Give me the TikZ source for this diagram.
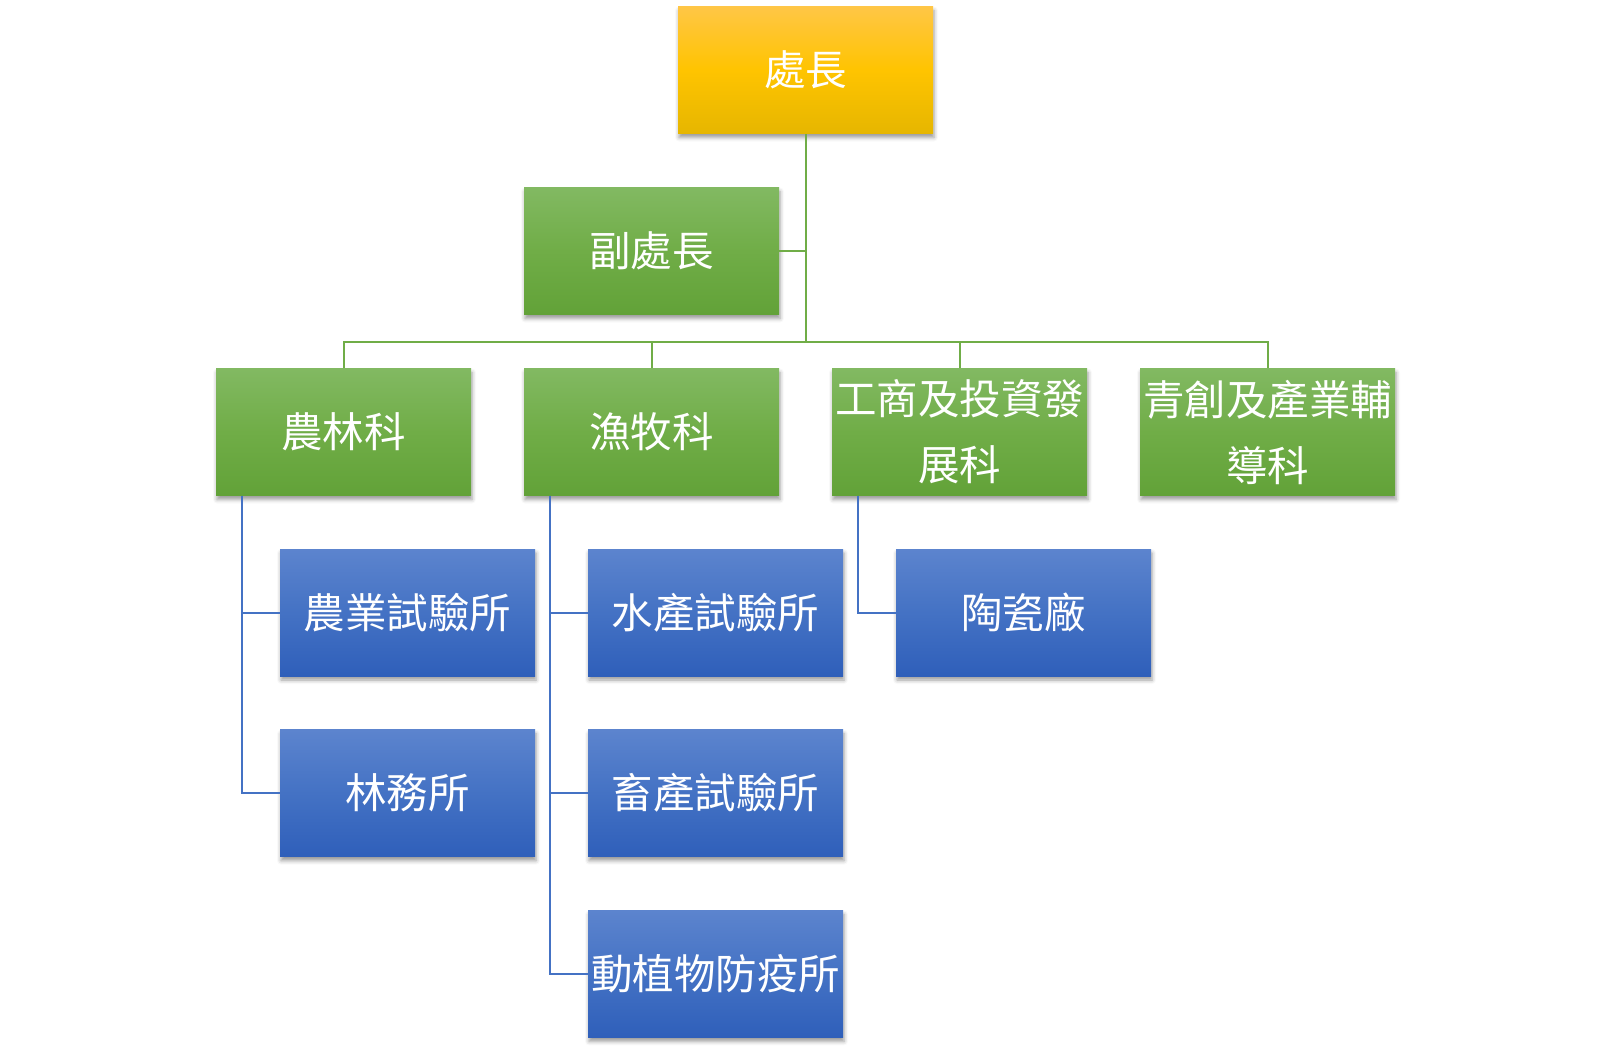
\documentclass[tikz,border=0pt]{standalone}
\usepackage{fontspec}
\setmainfont{Noto Sans CJK TC}
\usetikzlibrary{shadows.blur}
\definecolor{goldtop}{HTML}{FFC646}
\definecolor{goldmid}{HTML}{FFC400}
\definecolor{goldbot}{HTML}{E6B600}
\definecolor{greentop}{HTML}{82B962}
\definecolor{greenmid}{HTML}{70AD47}
\definecolor{greenbot}{HTML}{62A238}
\definecolor{bluetop}{HTML}{5C84CE}
\definecolor{bluemid}{HTML}{4472C4}
\definecolor{bluebot}{HTML}{2F5FBA}
\tikzset{
  unitbox/.style={minimum width=255, minimum height=127, inner sep=0pt,
    text=white, font=\fontsize{41.5}{66}\selectfont, align=center,
    blur shadow={shadow xshift=1pt, shadow yshift=-4pt,
      shadow blur radius=4pt, shadow opacity=40}},
  headbox/.style={unitbox, top color=goldtop, bottom color=goldbot, middle color=goldmid},
  deptbox/.style={unitbox, top color=greentop, bottom color=greenbot, middle color=greenmid},
  labbox/.style={unitbox, top color=bluetop, bottom color=bluebot, middle color=bluemid},
  greenline/.style={draw=greenmid, line width=2pt},
  blueline/.style={draw=bluemid, line width=2pt},
}

\begin{document}
\begin{tikzpicture}[x=1pt,y=-1pt]
\useasboundingbox (0,0) rectangle (1611,1057);
% top levels
\node[headbox] (boss) at (805.5,70) {處長};
\node[deptbox] (deputy) at (651.5,251) {副處長};
\coordinate (bar) at (805.5,341.5);
% departments
\node[deptbox] (agri) at (343.5,432) {農林科};
\node[deptbox] (fish) at (651.5,432) {漁牧科};
\node[deptbox] (biz) at (959.5,432) {工商及投資發\\展科};
\node[deptbox] (youth) at (1267.5,432) {青創及產業輔\\導科};
% institutes
\node[labbox] (agrilab) at (407.5,612.5) {農業試驗所};
\node[labbox] (forestry) at (407.5,793.2) {林務所};
\node[labbox] (aqualab) at (715.5,612.5) {水產試驗所};
\node[labbox] (stocklab) at (715.5,793.2) {畜產試驗所};
\node[labbox] (quarantine) at (715.5,973.9) {動植物防疫所};
\node[labbox] (ceramic) at (1023.5,612.5) {陶瓷廠};
% green connectors
\draw[greenline] (boss.south) -- (boss.south |- bar);
\draw[greenline] (deputy.east) -- (deputy.east -| bar);
\draw[greenline] (agri.north) |- (bar) -| (youth.north);
\draw[greenline] (fish.north) -- (fish.north |- bar);
\draw[greenline] (biz.north) -- (biz.north |- bar);
% blue connectors
\foreach \c in {agrilab,forestry}
  \draw[blueline] ([xshift=26pt]agri.south west) |- (\c.west);
\foreach \c in {aqualab,stocklab,quarantine}
  \draw[blueline] ([xshift=26pt]fish.south west) |- (\c.west);
\draw[blueline] ([xshift=26pt]biz.south west) |- (ceramic.west);
\end{tikzpicture}
\end{document}
